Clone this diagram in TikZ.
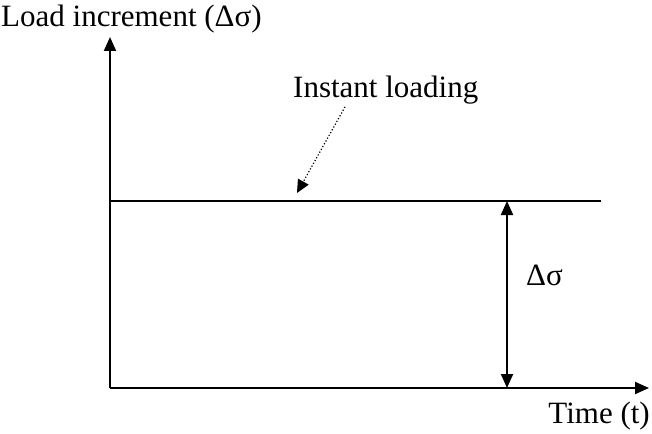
\documentclass[tikz,border=0pt]{standalone}
\usepackage{fontspec}
\setmainfont{Liberation Serif}
\usetikzlibrary{arrows.meta,positioning,calc}

\begin{document}
\begin{tikzpicture}[x=1pt, y=-1pt, every node/.style={font=\fontsize{31}{37}\selectfont, inner sep=0pt}]

\tikzstyle{axis} = [line width=2pt, -{Triangle[length=14pt,width=12pt]}]
\tikzstyle{level} = [line width=2pt]
\tikzstyle{span} = [line width=2pt, {Triangle[length=14pt,width=12pt]}-{Triangle[length=14pt,width=12pt]}]
\tikzstyle{pointer} = [line width=1.2pt, dotted, -{Triangle[length=13pt,width=12pt]}]

\useasboundingbox (0,0) rectangle (652,433);

% Axes
\coordinate (O) at (110,388);
\coordinate (ytop) at (110,37);
\coordinate (xend) at (649,388);
\draw[axis] (O) -- (ytop);
\draw[axis] (O) -- (xend);

% Load level
\coordinate (lstart) at (110,201);
\coordinate (lend) at (601,201);
\draw[level] (lstart) -- (lend);

% Increment
\coordinate (dtop) at (507,201);
\coordinate (dbot) at (507,388);
\draw[span] (dtop) -- (dbot);
\node[anchor=base west] (ds) at (526,285) {Δσ};

% Labels
\node[anchor=base west] (ylab) at (1,27) {Load increment (Δσ)};
\node[anchor=base east] (xlab) at (650,423) {Time (t)};
\node[anchor=base west] (il) at (293,97) {Instant loading};
\coordinate (hit) at (297,193);
\draw[pointer] ([xshift=52pt,yshift=-3pt]il.south west) -- (hit);

\end{tikzpicture}
\end{document}
